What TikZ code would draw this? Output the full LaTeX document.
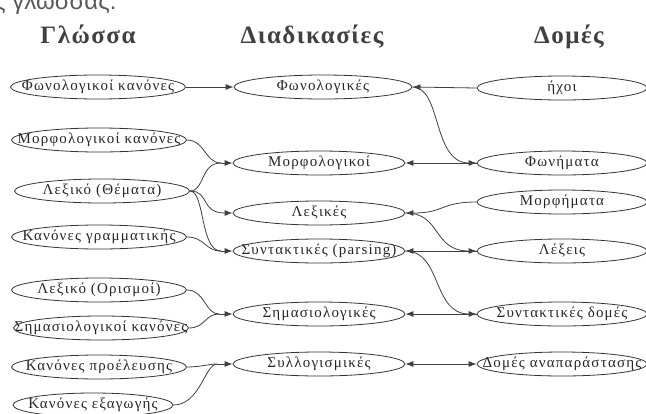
\documentclass[tikz,border=0pt]{standalone}
\usepackage{fontspec}
\setmainfont{Liberation Serif}
\newfontfamily\lblfont[LetterSpace=8]{Liberation Serif}
\newfontfamily\hdfont[LetterSpace=6]{Liberation Serif}
\newfontfamily\topfont{Liberation Sans}
\usetikzlibrary{shapes.geometric,arrows.meta}
\newcommand\lbltxt[1]{\makebox[0pt][c]{#1}}
\begin{document}
\begin{tikzpicture}[x=1pt,y=-1pt,
 box/.style={ellipse, draw=black!80, line width=0.8pt, inner sep=0pt, minimum height=24pt, text=black!85, font=\lblfont\fontsize{15}{15}\selectfont},
 lbox/.style={box, minimum width=175pt},
 pbox/.style={box, minimum width=172pt},
 rbox/.style={box, minimum width=170pt},
 hd/.style={font=\hdfont\bfseries\fontsize{25}{25}\selectfont, text=black!75, inner sep=0pt, anchor=base},
 conn/.style={draw=black!75, line width=0.8pt},
 arr/.style={conn, -{Latex[length=8pt,width=6pt]}},
 darr/.style={conn, {Latex[length=8pt,width=6pt]}-{Latex[length=8pt,width=6pt]}}
]
\useasboundingbox (0,0) rectangle (646,413);
\node[anchor=base west, font=\topfont\fontsize{24}{24}\selectfont, text=black!65, inner sep=0pt] (top) at (-6,9) {ς γλώσσας.};
\node[hd] (h1) at (88,43) {Γλώσσα};
\node[hd] (h2) at (312,43) {Διαδικασίες};
\node[hd] (h3) at (569,43) {Δομές};

\node[lbox] (l1) at (98,87) {\lbltxt{Φωνολογικοί κανόνες}};
\node[lbox] (l2) at (99,140) {\lbltxt{Μορφολογικοί κανόνες}};
\node[lbox] (l3) at (102,191) {\lbltxt{Λεξικό (Θέματα)}};
\node[lbox] (l4) at (99,237) {\lbltxt{Κανόνες γραμματικής}};
\node[lbox] (l5) at (99,290) {\lbltxt{Λεξικό (Ορισμοί)}};
\node[lbox] (l6) at (101,328) {\lbltxt{Σημασιολογικοί κανόνες}};
\node[lbox] (l7) at (99,367) {\lbltxt{Κανόνες προέλευσης}};
\node[lbox, minimum width=160pt] (l8) at (93,405) {\lbltxt{Κανόνες εξαγωγής}};

\node[pbox, minimum width=178pt] (p1) at (323,87) {\lbltxt{Φωνολογικές}};
\node[pbox] (p2) at (319,163) {\lbltxt{Μορφολογικοί}};
\node[pbox] (p3) at (319,213) {\lbltxt{Λεξικές}};
\node[pbox] (p4) at (319,251) {\lbltxt{Συντακτικές (parsing)}};
\node[pbox] (p5) at (319,314) {\lbltxt{Σημασιολογικές}};
\node[pbox] (p6) at (319,364) {\lbltxt{Συλλογισμικές}};

\node[rbox] (r1) at (562,88) {\lbltxt{ήχοι}};
\node[rbox] (r2) at (562,163) {\lbltxt{Φωνήματα}};
\node[rbox] (r3) at (562,202) {\lbltxt{Μορφήματα}};
\node[rbox] (r4) at (562,251) {\lbltxt{Λέξεις}};
\node[rbox] (r5) at (562,314) {\lbltxt{Συντακτικές δομές}};
\node[rbox] (r6) at (562,364) {\lbltxt{Δομές αναπαράστασης}};

\draw[arr] (l1.east) -- (p1.west);
\draw[arr] (r1.west) -- (p1.east);
\draw[arr] (p1.east) .. controls (442,87) and (432,163) .. (r2.west);
\draw[arr] (r2.west) -- (p2.east);

\coordinate (m2) at (221,163);
\draw[conn] (l2.east) .. controls (205,140) and (205,163) .. (m2);
\draw[conn] (l3.east) .. controls (205,191) and (200,163) .. (m2);
\draw[arr] (m2) -- (p2.west);

\draw[arr] (l3.east) .. controls (210,191) and (200,213) .. (p3.west);
\coordinate (m4) at (221,251);
\draw[conn] (l3.east) .. controls (205,191) and (200,251) .. (m4);
\draw[conn] (l4.east) .. controls (205,237) and (205,251) .. (m4);
\draw[arr] (m4) -- (p4.west);

\draw[arr] (r3.west) .. controls (440,202) and (445,213) .. (p3.east);
\draw[arr] (p3.east) .. controls (442,213) and (432,251) .. (r4.west);
\draw[arr] (r4.west) -- (p4.east);
\draw[arr] (p4.east) .. controls (442,251) and (432,314) .. (r5.west);
\draw[arr] (r5.west) -- (p5.east);

\coordinate (m5) at (219,314);
\draw[conn] (l5.east) .. controls (205,290) and (205,314) .. (m5);
\draw[conn] (l6.east) .. controls (205,328) and (205,314) .. (m5);
\draw[arr] (m5) -- (p5.west);

\coordinate (m6) at (217,364);
\draw[conn] (l7.east) .. controls (200,367) and (210,364) .. (m6);
\draw[conn] (l8.east) .. controls (200,405) and (205,364) .. (m6);
\draw[arr] (m6) -- (p6.west);
\draw[darr] (p6.east) -- (r6.west);
\end{tikzpicture}
\end{document}
